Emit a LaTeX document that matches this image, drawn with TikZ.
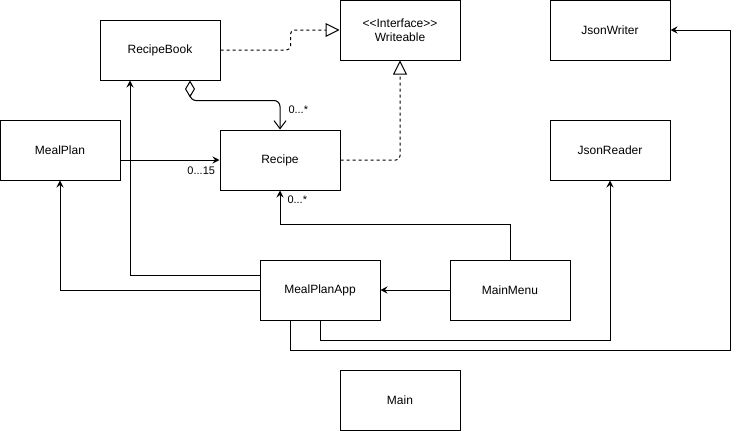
\documentclass[tikz,border=0pt]{standalone}
\usepackage{fontspec}
\setmainfont{Liberation Sans}
\usetikzlibrary{arrows.meta}
\usetikzlibrary{positioning}
\usetikzlibrary{calc}
\colorlet{colorDEP}{black}
\colorlet{colorREAL}{black}
\colorlet{colorAGG}{black}
\tikzset{
   cls/.style={draw,rectangle,minimum width=120pt,minimum height=60pt,inner sep=0pt,
     align=center,font=\fontsize{12}{14}\selectfont},
   dep/.style={-{Stealth[length=7pt,width=7pt,inset=2.5pt]},color=colorDEP},
   real/.style={-{Triangle[open,length=14pt,width=14pt,fill=white]},
     dash pattern=on 3pt off 3pt,color=colorREAL,rounded corners=4pt},
   agg/.style={{Diamond[open,length=17pt,width=10pt]}-{Straight Barb[length=8pt,width=12pt]},
     color=colorAGG,rounded corners=6pt},
   mult/.style={font=\fontsize{11}{13}\selectfont,inner sep=1pt},
}
\newcommand{\stereo}[1]{<\kern0pt<#1>\kern0pt>}

\begin{document}
\begin{tikzpicture}[x=1pt,y=-1pt,line width=1pt]

  \useasboundingbox[fill=white] (0,0) rectangle (739,431);

  \node[cls] (book)   at (160, 50)  {RecipeBook};
  \node[cls] (iface)  at (400, 30)  {\stereo{Interface}\\Writeable};
  \node[cls] (recipe) at (280,160)  {Recipe};
  \node[cls] (plan)   at ( 60,150)  {MealPlan};
  \node[cls] (writer) at (610, 30)  {JsonWriter};
  \node[cls] (reader) at (610,150)  {JsonReader};
  \node[cls] (app)    at (320,290)  {MealPlanApp};
  \node[cls] (menu)   at (510,290)  {MainMenu};
  \node[cls] (main)   at (400,400)  {Main};

  \coordinate (rim) at (730,350);

  \draw[real] (book.east) -- ++(70,0) |- (iface.west);
  \draw[real] (recipe.east) -| (iface.south);

  \draw[agg] ([xshift=30pt]book.south) -- ++(0,20) -| (recipe.north);
  \node[mult, above right=14pt and 7pt of recipe.north] (mbook) {0...*};

  \draw[dep] (plan.east |- recipe.west) -- (recipe.west);
  \node[mult, below left=5pt and 3pt of recipe.west] (mplan) {0...15};

  \draw[dep] (menu.north) -- ++(0,-35) -| (recipe.south);
  \node[mult, below right=4pt and 6pt of recipe.south] (mmenu) {0...*};

  \draw[dep] (menu.west) -- (app.east);
  \draw[dep] ([yshift=15pt]app.west) -| ([xshift=-30pt]book.south);
  \draw[dep] (app.west) -| (plan.south);
  \draw[dep] (app.south) -- ++(0,20) -| (reader.south);
  \draw[dep] ([xshift=-30pt]app.south) |- (rim) |- (writer.east);

\end{tikzpicture}
\end{document}
